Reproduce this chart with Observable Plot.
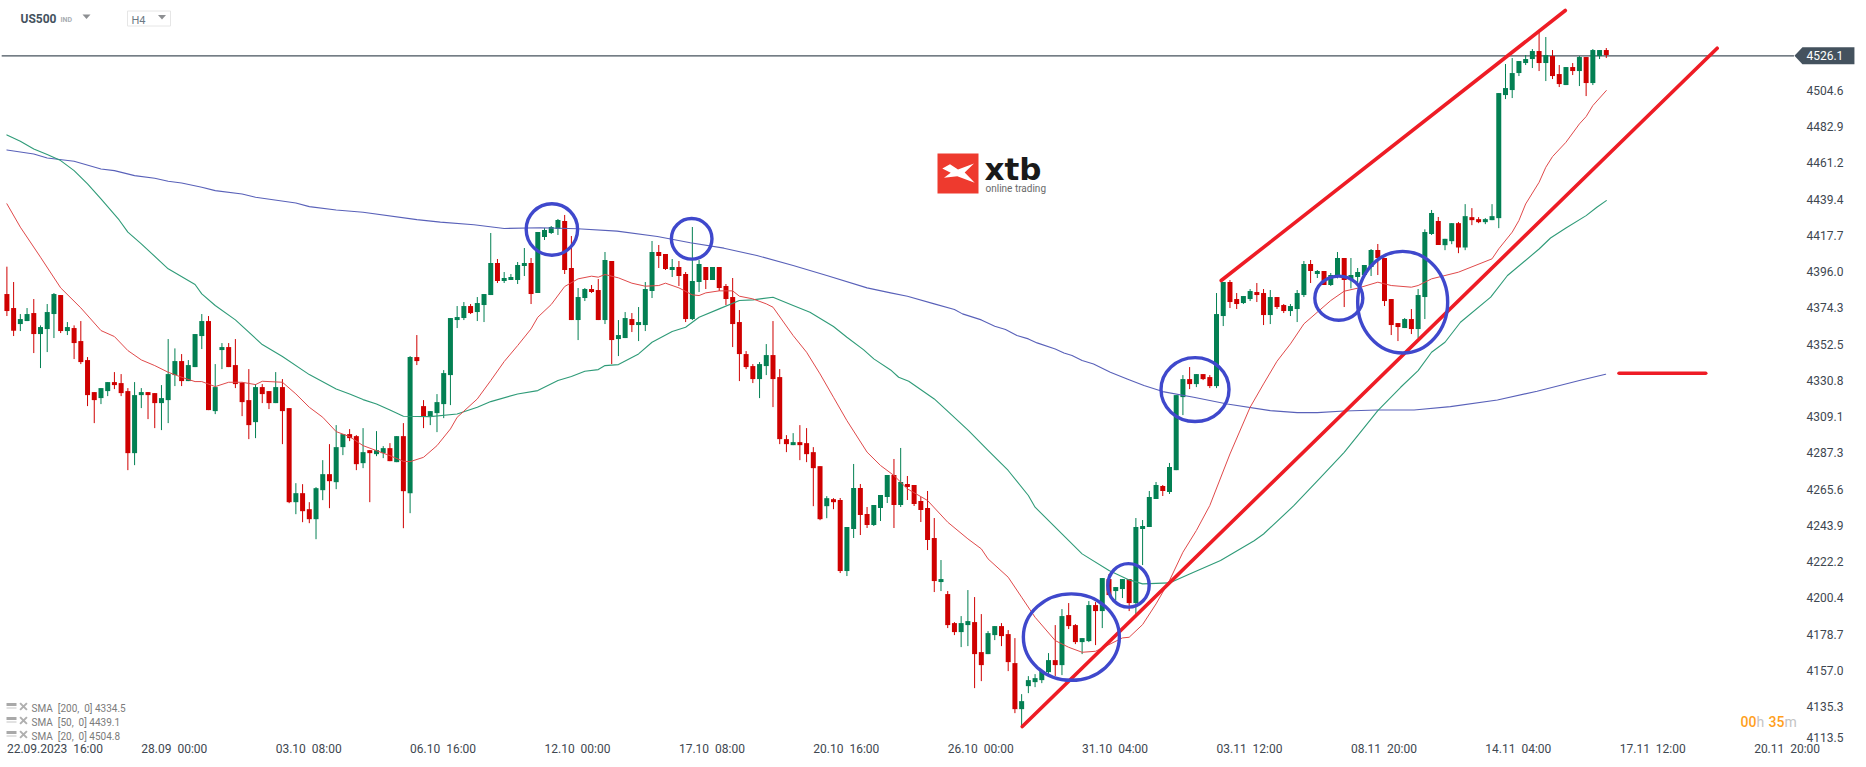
<!DOCTYPE html>
<html><head><meta charset="utf-8">
<style>html,body{margin:0;padding:0;background:#fff;overflow:hidden}svg{display:block}</style>
<script src="https://cdn.jsdelivr.net/npm/d3@7"></script>
<script src="https://cdn.jsdelivr.net/npm/@observablehq/plot@0.6"></script>
</head><body><div id="chart"></div>
<script>
const opens=[
4383,4374.6,4365,4366.8,4371.6,4359,4362,4371,4382.4,4360.8,
4362.6,4354.8,4343.4,4324.2,4320.6,4324.8,4330.2,4329.6,4324.8,4287.6,
4322.4,4324.2,4323.6,4317.6,4319.4,4334.4,4342.8,4330.8,4339.2,4357.8,
4366.8,4312.8,4349.4,4351.2,4340.4,4329.8,4319.4,4306.2,4327.2,4324.8,
4317.6,4327.2,4314.6,4258.2,4263.6,4254,4248,4265.4,4275,4270.2,
4291.2,4299,4297.8,4281.6,4289.4,4287,4287.6,4290.6,4282.2,4297.8,
4263.6,4345.2,4315.8,4309.8,4311.6,4317,4334.4,4367.4,4368.6,4375.8,
4372.2,4376.4,4382.4,4401.6,4390.8,4391.4,4391.4,4399.8,4401.6,4383.6,
4417.2,4419.6,4422,4426.8,4398.6,4367.4,4380.6,4386,4385.4,4367.4,
4402.8,4356,4356.6,4368,4364.4,4364.4,4384.8,4408.2,4407,4397.4,
4399.2,4395,4368,4390.2,4399.2,4391.4,4399.2,4387.8,4381.2,4366.2,
4347,4339.8,4332,4339.8,4346.4,4333.2,4296,4292.4,4294.2,4293.6,
4288.2,4279.8,4255.8,4260,4259.5,4216.9,4242.1,4266.7,4251.1,4244.5,
4254.7,4261.3,4274.5,4256.5,4269.1,4268.5,4258.9,4254.7,4236.7,4210.3,
4203.1,4185.7,4180.3,4184.5,4186.3,4168.3,4167.1,4178.5,4183.9,4179.1,
4161.7,4134.1,4147.9,4150.3,4151.5,4156.3,4163.5,4160.5,4190.5,4184.5,
4174.3,4174.9,4196.5,4192.9,4212.1,4204.9,4206.1,4212.1,4197.7,4242.1,
4243.3,4260.1,4267.9,4264.3,4277.4,4321.2,4332,4329,4335,4333.2,
4327.8,4369.8,4390.2,4380,4377.6,4380,4384.2,4383.6,4370.4,4381.2,
4376.4,4372.8,4374,4382.4,4401,4395,4396.8,4388.4,4393.8,4404.6,
4392,4393.2,4394.4,4399.2,4409.4,4404.6,4380,4365.6,4362.6,4368,
4362,4381.2,4419,4426.8,4412.3,4414.7,4425.5,4410.9,4429.1,4427.9,
4426.1,4427.3,4428.5,4502.3,4505.3,4515.5,4521.5,4523.9,4528.7,4521.5,
4525.7,4514.9,4508.3,4519.1,4516.7,4525.1,4509.5,4525.7,4529.3];
const closes=[
4372.8,4361,4368,4371,4359,4363.2,4372.2,4383,4360.8,4363.2,
4353.6,4342.2,4322.4,4319.4,4326.6,4330.2,4328.4,4323.6,4287.6,4322.4,
4324.2,4322.4,4317.6,4320.6,4335,4342.8,4330.8,4340.4,4359,4366.8,
4313.4,4327.2,4351.2,4339.2,4329,4318.2,4304.4,4327.2,4323,4317.6,
4327.2,4312.8,4258.2,4263.6,4252.8,4248,4266.6,4275,4270.8,4291.2,
4299,4296.6,4281,4288.2,4287.6,4289.4,4290.6,4282.8,4297.8,4264.8,
4345.2,4342.8,4309.8,4312.8,4318.2,4335.6,4368.6,4369.2,4375.8,4371.6,
4377.6,4383,4401.6,4390.8,4392.6,4393.2,4400.4,4401.6,4383,4420.2,
4421.4,4423.2,4427.4,4397.4,4367.4,4381.2,4386,4384.2,4367.4,4403.4,
4355.4,4358.4,4368.6,4364.4,4366.2,4386,4408.2,4405.8,4398,4399.2,
4393.8,4368,4390.8,4401,4391.4,4399.2,4386.6,4380,4365,4347,
4339.2,4332,4341,4346.4,4332,4296,4293,4294.2,4292.4,4287,
4278.6,4248,4260.6,4258.2,4216.9,4243.3,4266.7,4250.5,4244.5,4256.5,
4262.5,4274.5,4256.5,4270.3,4267.3,4257.1,4253.5,4235.5,4210.9,4212.1,
4184.5,4180.3,4185.7,4186.9,4167.1,4160.5,4179.7,4183.9,4177.9,4162.3,
4134.1,4138.9,4151.5,4152.7,4156.9,4163.5,4160.5,4189.9,4183.9,4174.3,
4176.7,4196.5,4192.9,4212.7,4202.5,4207.3,4212.1,4197.7,4243.3,4243.9,
4261.3,4268.5,4264.9,4279.3,4322.4,4332,4329,4335,4332,4327.8,
4371,4390.2,4378.2,4377,4381.8,4384.8,4382.4,4370.4,4381.2,4375.2,
4372.8,4375.8,4383.6,4401,4396.8,4396.8,4388.4,4394.4,4404.6,4391.4,
4394.4,4396.2,4400.4,4409.4,4404.6,4378.8,4364.4,4363.2,4368,4362,
4382.4,4420.2,4431.6,4412.4,4416.1,4425.5,4410.9,4429.7,4427.3,4426.1,
4427.9,4429.7,4503.5,4506.5,4515.5,4522.7,4523.9,4528.7,4521.5,4526.3,
4513.7,4508.9,4519.1,4516.7,4525.1,4509.5,4529.3,4529.3,4526.3];
const highs=[
4399.4,4390.2,4371,4374.6,4380,4364.2,4377,4383.6,4382.4,4366.2,
4364.2,4366.8,4345.2,4324.2,4326.6,4330.2,4336.2,4335,4326.6,4330.2,
4326.6,4324.2,4323.6,4328.4,4356,4350.4,4347,4343.4,4359,4371,
4369.8,4341,4353.6,4353.6,4356,4330.2,4338,4329,4329,4324.8,
4336.2,4332,4314.6,4269.6,4269,4258.2,4267.2,4283.4,4293,4304.4,
4299,4302,4298.4,4302.6,4289.4,4300.8,4291.8,4293.6,4297.8,4305.6,
4345.8,4358.4,4319.4,4312.8,4323,4337.4,4368.6,4375.8,4378.2,4377,
4381.2,4383,4419.6,4404,4396.2,4395,4402.2,4410.6,4404.6,4420.2,
4422.6,4423.8,4428,4430.4,4417.8,4386.6,4386.6,4388.4,4392,4408.2,
4402.8,4367.4,4372.2,4371.6,4375.2,4390.2,4414.8,4412.4,4407,4404,
4402.8,4396.2,4423.2,4403.4,4399.2,4399.2,4399.2,4389,4392.6,4373.4,
4348.8,4341,4342.2,4353,4366.8,4338,4298.4,4299.6,4304.4,4302.6,
4291.2,4279.8,4261.8,4260.6,4260.7,4243.3,4281.1,4269.1,4255.3,4256.5,
4262.5,4274.5,4284.1,4290.7,4273.9,4268.5,4261.3,4264.9,4248.7,4223.5,
4204.9,4186.3,4189.9,4205.5,4201.3,4191.1,4180.9,4183.9,4185.7,4181.5,
4176.7,4143.1,4153.9,4155.1,4156.9,4167.7,4184.5,4194.1,4197.7,4185.1,
4176.7,4198.9,4198.3,4212.7,4215.1,4207.3,4212.1,4212.1,4248.7,4247.5,
4264.9,4270.3,4268.5,4281.7,4322.4,4334.4,4339.2,4335,4335,4334.4,
4383.6,4390.2,4391.4,4383.6,4381.8,4386,4389.6,4386,4385.4,4381.2,
4377,4377,4385.4,4402.8,4403.4,4397.4,4396.8,4395.6,4408.2,4404.6,
4404.6,4398.6,4400.4,4410,4413,4404.6,4380,4365.6,4368.6,4374,
4386,4421.8,4433.4,4429.2,4416.1,4425.5,4426.2,4436.9,4434.5,4429.1,
4428.5,4436.9,4503.5,4520.9,4524.5,4522.7,4526.3,4529.9,4540.1,4537.1,
4529.3,4520.3,4519.1,4521.5,4525.7,4525.1,4529.9,4529.3,4530.5];
const lows=[
4369.8,4357.8,4360.8,4366.8,4347.6,4338.6,4348.2,4356.6,4359.6,4358.4,
4344,4341,4315.8,4305.6,4317,4321.8,4326,4321.8,4277.4,4280.4,
4314.6,4308,4302.6,4301.4,4305.6,4327.8,4327.8,4330.8,4339.2,4350,
4313.4,4311,4338,4339.2,4326.6,4309.8,4296,4296.6,4317.6,4314,
4317.6,4293,4257.6,4251,4246.2,4245.6,4236,4259.4,4254.6,4266,
4286.4,4294.8,4277.4,4278.6,4258.2,4285.8,4284.6,4282.8,4282.2,4242.6,
4251.6,4340.4,4302.6,4304.4,4300.2,4308.6,4316.4,4362.6,4367.4,4371,
4366.8,4366.2,4382.4,4389.6,4389.6,4391.4,4389,4393.8,4377,4383.6,
4415.4,4419,4418.4,4395,4367.4,4355.4,4378.8,4383.6,4367.4,4365,
4341,4345.8,4356.6,4360.2,4354.8,4360.8,4380.6,4398.6,4397.4,4393.2,
4387.8,4366.2,4367.4,4384.2,4386,4391.4,4384.8,4376.4,4351.2,4330.8,
4338,4329.6,4320.6,4334.4,4315.2,4293,4288.2,4292.4,4283.4,4282.2,
4255.8,4247.4,4248.6,4254,4215.7,4213.9,4236.7,4238.5,4242.7,4243.9,
4246.9,4257.7,4242.7,4255.3,4259.5,4255.9,4246.3,4229.5,4204.3,4204.9,
4182.7,4178.5,4171.3,4171.9,4146.7,4150.9,4167.1,4175.5,4171.9,4156.9,
4131.7,4122.7,4143.7,4147.3,4149.7,4154.5,4153.9,4154.5,4182.1,4173.1,
4167.1,4174.3,4172.5,4182.7,4202.5,4199.5,4200.7,4192.9,4191.1,4220.5,
4243.3,4260.1,4261.9,4263.1,4277.4,4310.4,4326,4327.2,4331.4,4326.6,
4326.6,4363.8,4374.6,4374,4377,4378.8,4378.2,4364.4,4365,4374,
4371.6,4369.8,4366.2,4381.2,4389.6,4392.6,4388.4,4387.8,4392.4,4375.2,
4386.4,4388.4,4393,4393.8,4394.4,4375.8,4358.4,4354.8,4362.6,4359,
4356.6,4368,4418.4,4412.4,4409.3,4412.9,4407.5,4409.3,4424.3,4425.5,
4424.9,4427.3,4422.5,4499.9,4500.5,4513.7,4520.3,4518.5,4516.7,4510.7,
4511.9,4507.1,4508.3,4514.3,4507.7,4501.7,4508.3,4523.9,4524.5];

// SMA 20, read as [candle index, price]
const sma20Idx=[0,2,5,8,11,14,16,18,20,22,24,26,28,29,31,33,35,37,38,41,43,45,47,49,51,53,55,57,59,60,62,64,66,67,70,72,74,76,78,79,81,83,85,87,88,89,91,93,95,97,98,100,102,103,104,106,108,109,111,113,114,117,119,121,123,125,128,130,132,134,137,140,143,145,146,149,151,153,156,158,160,162,164,166,167,169,171,173,175,177,179,182,185,187,189,191,193,195,197,199,201,204,206,209,210,212,216,221,222,224,225,226,228,229,230,232,234,235,236,238];
const sma20Val=[4437.4,4423.4,4405.4,4387,4375,4361.4,4357.8,4349.4,4343.8,4340.4,4336.4,4333.4,4330.8,4330.8,4327.8,4330.4,4330.4,4329,4331,4330.4,4323.4,4315.4,4309.4,4300.8,4297.8,4292.4,4289.4,4286.4,4283,4282.8,4285.4,4292.4,4302.4,4309.4,4320.4,4331.4,4342.8,4352.4,4362.4,4369.4,4377,4387.8,4392.4,4394,4393.4,4395,4393,4389.8,4388,4388.4,4389.8,4387,4382.8,4382.4,4384,4385.2,4385.2,4382,4380.4,4377.4,4375.4,4358.4,4348.4,4335.4,4321.4,4307.4,4288.5,4280.5,4274.5,4266.5,4259.5,4246.5,4236.5,4230.5,4224.5,4213.5,4201.5,4189.5,4175.5,4171.5,4168.5,4169.1,4173.1,4177.1,4177.5,4185.1,4197.5,4211.5,4228.5,4241.5,4256.5,4287.4,4315.4,4329.4,4343,4353.4,4365.4,4372.4,4379.4,4385,4386.8,4390.4,4388.4,4387.4,4388.4,4392.4,4396.4,4404.4,4410.4,4420.4,4427.4,4437.3,4450.3,4459.3,4465.7,4474.3,4485.3,4489.7,4496.3,4505.3];
// SMA 50
const sma50Idx=[0,2,4,6,8,10,12,14,16.7,18,20,24,28,29,31,34,38,41,45,49,51,53,55,57,59,63,67,70,72,76,79,82,84,86,88,89,91,94,96,99,101,103,106,109,111,114,117,119.5,123,125,127.5,129,131.5,132.7,134.2,138,140.7,143.1,146,149,152,153,157,160,164,167,169,173,176,180.6,185.6,187,191.5,195.5,199,202,204,207.4,210,212,214,216.3,220.8,223.3,228,229.7,232,235,236.6,238];
const sma50Val=[4478.7,4474.9,4470.3,4466.9,4463.3,4457.3,4449.3,4440.3,4427.7,4420.4,4413.4,4398.4,4389,4383.4,4376.4,4367.8,4353,4345.8,4335,4326.4,4323.4,4320,4317.4,4313.8,4310,4309.8,4311.4,4315.4,4318.8,4323.4,4325.4,4331.4,4333.8,4337,4338,4340.4,4341,4347.4,4354.4,4360.8,4363.4,4369.4,4374.4,4379.4,4379.8,4381.4,4376.4,4372.4,4363.8,4357.4,4349.8,4344.4,4337.8,4333.4,4331,4320.4,4310.4,4301.4,4289.5,4277.5,4262.5,4255.5,4239.5,4227.5,4217.5,4211.9,4209.5,4210.1,4215.5,4223.5,4235.4,4239.4,4256.4,4273.4,4288.4,4303.4,4313.4,4327.4,4337.4,4348.4,4354.4,4366.4,4381.4,4394.4,4410.3,4416.9,4422.9,4430.3,4435.3,4439.3];
// SMA 200
const sma200Idx=[0,4,6,10,14,16,19,22,24,26,29,31,35,37,43,45,49,53,61,64.5,69.5,74,79.4,84.9,90.8,96.8,101.7,106.7,111.6,117,122,128,131.5,134,138,141,142.2,145,147,148.6,150.3,152,153.3,156,157.3,158.5,160,161.7,164.2,166.7,169.2,172,176.6,181.6,188,192,195,199,204,209.4,214.8,221.8,227.7,234,237.9];
const sma200Val=[4469.7,4467.3,4464.9,4462.9,4458.3,4457.3,4454.3,4452.7,4450.9,4449.9,4447.3,4445.3,4443.3,4441.3,4437.9,4435.7,4433.7,4432.3,4427.9,4426.4,4424.8,4422.6,4423,4422.4,4421,4417.8,4414,4410.8,4406.4,4400.4,4394.4,4387,4384,4382,4377.4,4374,4371.4,4367.8,4364,4362,4358.4,4356.4,4354,4350.4,4348,4346.4,4343.4,4341.4,4336.4,4332.4,4328.4,4324.8,4321.4,4317.4,4313.4,4312.2,4312.2,4313.2,4313.8,4313.8,4315.8,4319.8,4325,4331.4,4335.2];

const priceTicks=[4504.6,4482.9,4461.2,4439.4,4417.7,4396.0,4374.3,4352.5,4330.8,4309.1,4287.3,4265.6,4243.9,4222.2,4200.4,4178.7,4157.0,4135.3];
const lastTick=[4113.5];
const timeTickIdx=[0,20,40,60,80,100,120,140,160,180,200,220,240,260];
const timeLabels=["22.09.2023  16:00","28.09  00:00","03.10  08:00","06.10  16:00","12.10  00:00","17.10  08:00","20.10  16:00","26.10  00:00","31.10  04:00","03.11  12:00","08.11  20:00","14.11  04:00","17.11  12:00","20.11  20:00"];
const lastPrice=4526.1;
const legendLines=["SMA  [200,  0] 4334.5","SMA  [50,  0] 4439.1","SMA  [20,  0] 4504.8"];

// hand-drawn annotations, in chart units
const circleIdx=[81.1,101.9,158.4,166.9,176.8,198.2,207.7];
const circlePrice=[4422,4416.4,4177.6,4208.6,4326,4380.8,4378.4];
const circleRx=[25.7,20.3,48,20.7,34,24,45];
const circleRatio=[1,1,0.9,1.05,0.94,0.92,1.13];
const trendLines=[
 [{i:151.1,p:4124},{i:254.5,p:4530.7}],
 [{i:180.7,p:4391.4},{i:231.9,p:4553.3}],
 [{i:239.9,p:4335.8},{i:252.8,p:4335.8}]];

const nb=s=>s.replace(/ /g,"\u00a0");
const candles=opens.map((o,i)=>({i,o,c:closes[i],h:highs[i],l:lows[i],dir:closes[i]>=o?"up":"down"}));
const series=(I,V)=>I.map((i,k)=>({i,v:V[k]}));

// symbol helpers
const ellipse=ratio=>({draw(ctx,size){const r=Math.sqrt(size/Math.PI),a=r,b=r*ratio,k=0.5523;
 ctx.moveTo(a,0);
 ctx.bezierCurveTo(a,k*b,k*a,b,0,b);ctx.bezierCurveTo(-k*a,b,-a,k*b,-a,0);
 ctx.bezierCurveTo(-a,-k*b,-k*a,-b,0,-b);ctx.bezierCurveTo(k*a,-b,a,-k*b,a,0);ctx.closePath();}});
const poly=pts=>({draw(ctx){pts.forEach((p,k)=>k?ctx.lineTo(p[0],p[1]):ctx.moveTo(p[0],p[1]));ctx.closePath();}});

const label=(t,x,y,o={})=>Plot.text([t],{text:d=>d,frameAnchor:"top-left",dx:x,dy:y,textAnchor:"start",lineAnchor:"middle",...o});
const glyph=(sym,x,y,o={})=>Plot.dot([0],{frameAnchor:"top-left",dx:x,dy:y,r:1,symbol:sym,stroke:"none",...o});

const redC="#cf0000",greenC="#038053",lineRed="#e0494a",lineGreen="#2f9b78",lineBlue="#5961b9",ann="#3f48cc",annRed="#ee1c25";
const ink="#3e4750";

const chrome=[
 label("US500",20,19,{fontWeight:700,fontSize:12,fill:"#44525e"}),
 label("IND",60,19.5,{fontWeight:700,fontSize:7,fill:"#a8adb2"}),
 glyph(poly([[-4,-2.5],[4,-2.5],[0,2]]),86,16.5,{fill:"#8d8f92"}),
 glyph(poly([[0,0],[43,0],[43,15],[0,15]]),127,10.5,{fill:"#fff",stroke:"#e6e6e6",strokeWidth:1}),
 label("H4",131,20,{fontSize:11,fill:"#6d7a85"}),
 glyph(poly([[-4,-2.5],[4,-2.5],[0,2]]),161.5,17,{fill:"#8d8f92"}),
 // logo
 glyph(poly([[-20.5,-20],[20.5,-20],[20.5,20],[-20.5,20]]),957.5,173,{fill:"#ee3a2e"}),
 glyph(poly([[-8,-9.3],[0,-4],[16,-10],[6.7,-1],[16.7,9.3],[-0.7,2.7],[-14,4.3],[-7.3,-0.7],[-15.7,-5]]),957.5,173,{fill:"#fff"}),
 label("xtb",984,170,{fontFamily:"DejaVu Sans",fontWeight:700,fontSize:31,fill:"#1a1a1a"}),
 label("online trading",985,188,{fontFamily:"Roboto",fontSize:10,fill:"#6a6a6a"}),
 // SMA legend
 ...legendLines.flatMap((t,k)=>[
  glyph(poly([[-5,-3.5],[5,-3.5],[5,-0.5],[-5,-0.5]]),11,706+k*14,{fill:"#a9a9a9"}),
  glyph(poly([[-5,1],[5,1],[5,2],[-5,2]]),11,706+k*14,{fill:"#c4c4c4"}),
  glyph("times",23,706+k*14,{stroke:"#b0b0b0",strokeWidth:2,r:3.2}),
  label(nb(t),31,708+k*14,{fontSize:10,fill:"#7b7b7b"})]),
 // countdown
 label("00",1740,722,{fontSize:14,fontWeight:500,fill:"#ff9f1c"}),
 label("h",1756,722,{fontSize:14,fill:"#c4c4c4"}),
 label("35",1768,722,{fontSize:14,fontWeight:500,fill:"#ff9f1c"}),
 label("m",1784,722,{fontSize:14,fill:"#c4c4c4"})
];

const chart=Plot.plot({
 width:1866,height:767,marginLeft:0,marginRight:66,marginTop:0,marginBottom:25,
 style:{fontFamily:"Roboto",fontSize:"12px",color:ink,background:"#fff",overflow:"visible"},
 x:{domain:[-0.952,266.9],range:[0,1800]},
 y:{domain:[4114.4,4559.3],range:[742,0]},
 color:{domain:["up","down"],range:[greenC,redC]},
 marks:[
  Plot.ruleY([lastPrice],{x1:-0.7,x2:266,stroke:"#46525d",strokeWidth:1.2}),
  Plot.ruleX(candles,{x:"i",y1:"l",y2:"h",stroke:"dir",strokeWidth:1}),
  Plot.ruleX(candles,{x:"i",y1:"o",y2:"c",stroke:"dir",strokeWidth:5}),
  Plot.line(series(sma200Idx,sma200Val),{x:"i",y:"v",stroke:lineBlue,strokeWidth:1.1}),
  Plot.line(series(sma50Idx,sma50Val),{x:"i",y:"v",stroke:lineGreen,strokeWidth:1.1}),
  Plot.line(series(sma20Idx,sma20Val),{x:"i",y:"v",stroke:lineRed,strokeWidth:1}),
  ...trendLines.map(seg=>Plot.line(seg,{x:"i",y:"p",stroke:annRed,strokeWidth:3.6,strokeLinecap:"round"})),
  ...circleIdx.map((c,k)=>Plot.dot([k],{x:()=>c,y:()=>circlePrice[k],r:circleRx[k],symbol:ellipse(circleRatio[k]),stroke:ann,strokeWidth:3.4,fill:"none"})),
  Plot.dot([lastPrice],{x:()=>266,y:d=>d,r:1,symbol:poly([[0,0],[8,-8.5],[60,-8.5],[60,8.5],[8,8.5]]),fill:"#44525e",stroke:"none"}),
  Plot.text([lastPrice],{x:()=>266,y:d=>d,dx:12,text:d=>d.toFixed(1),textAnchor:"start",fill:"#fff",fontSize:12}),
  Plot.axisY(priceTicks,{anchor:"right",label:null,tickSize:0,tickPadding:6,tickFormat:d=>d.toFixed(1),fontSize:12,dy:-0.5}),
  Plot.axisY(lastTick,{anchor:"right",label:null,tickSize:0,tickPadding:6,tickFormat:d=>d.toFixed(1),fontSize:12,dy:-6}),
  Plot.axisX(timeTickIdx,{anchor:"bottom",label:null,tickSize:0,tickPadding:2,textAnchor:"start",tickFormat:d=>nb(timeLabels[d/20]),fontSize:12}),
  ...chrome
 ]
});
document.getElementById("chart").append(chart);
</script></body></html>
